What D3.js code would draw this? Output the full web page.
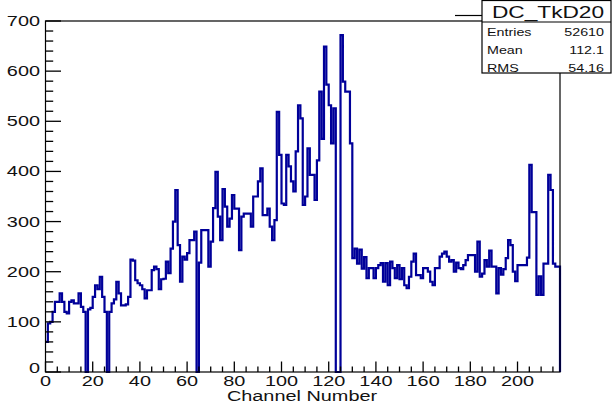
<!DOCTYPE html>
<html><head><meta charset="utf-8">
<script src="https://cdn.jsdelivr.net/npm/d3@7"></script>
<style>body{margin:0;background:#fff}svg{display:block}text{font-family:"Liberation Sans",Arial,sans-serif;fill:#111}</style>
</head><body><svg id="c" width="613" height="404"></svg>
<script>
// channel counts (bin i covers [i, i+1))
const counts = [
 60,97,100,120,140,140,157,140,120,117, 140,143,137,137,157,130,120,0,125,128,
 150,173,165,190,150,120,0,120,137,145, 180,157,133,133,135,150,224,222,183,177,
 173,165,147,163,163,203,210,205,165,185, 186,220,197,246,300,363,253,180,230,224,
 237,263,263,280,0,218,283,283,283,210, 260,327,399,310,263,365,330,290,306,353,
 326,326,243,310,316,316,316,290,350,350, 380,406,313,313,326,290,263,303,519,433,
 336,333,433,410,380,360,440,532,506,333, 350,446,393,393,343,422,559,465,649,573,
 532,456,526,0,0,672,579,559,559,456, 227,246,216,244,206,229,187,207,207,187,
 207,213,217,180,217,173,220,207,187,213, 185,207,173,167,190,220,236,193,193,187,
 207,207,200,180,173,207,207,230,236,240, 230,220,223,200,218,207,205,213,223,233,
 233,233,200,260,190,196,223,210,242,210, 210,157,207,194,205,227,263,253,200,181,
 213,213,213,213,228,413,319,319,154,191, 154,216,216,393,363,216,210,210
];
const xTickLabels = [0,20,40,60,80,100,120,140,160,180,200];
const yTickLabels = [0,100,200,300,400,500,600,700];
const statNames = ["Entries","Mean","RMS"];
const statValues = ["52610","112.1","54.16"];
const histName = "DC_TkD20";
const xTitle = "Channel Number";

const svg = d3.select("#c");
const L=45.5, R=560, T=21, B=372;
const x = d3.scaleLinear().domain([0,218]).range([L,R]);
const y = d3.scaleLinear().domain([0,700]).range([B,T]);
const SX = 1.42;
const col = "#000099";

// histogram outline
const pts = [[0,counts[0]]];
counts.forEach((v,i)=>{pts.push([i,v]);pts.push([i+1,v]);});
pts.push([counts.length,0]);
const line = d3.line().x(d=>x(d[0])).y(d=>y(d[1]));
svg.append("path").attr("d",line(pts)).attr("fill","none")
  .attr("stroke",col).attr("stroke-width",2.2).attr("stroke-linejoin","miter");

// frame
svg.append("rect").attr("x",L).attr("y",T).attr("width",R-L).attr("height",B-T)
  .attr("fill","none").attr("stroke","#000").attr("stroke-width",1.2);

// x ticks (inside)
const xt = d3.range(0,218,5);
svg.selectAll(".xt").data(xt).enter().append("line")
  .attr("x1",d=>x(d)).attr("x2",d=>x(d)).attr("y1",B)
  .attr("y2",d=>B-(d%20===0?10.5:5.5)).attr("stroke","#000").attr("stroke-width",1.3);
svg.selectAll(".xl").data(xTickLabels).enter().append("text")
  .attr("transform",d=>`translate(${x(d)},386) scale(${SX},1)`)
  .attr("text-anchor","middle").attr("font-size",14).text(d=>d);

// y ticks (inside)
const yt = d3.range(0,701,20);
svg.selectAll(".yt").data(yt).enter().append("line")
  .attr("y1",d=>y(d)).attr("y2",d=>y(d)).attr("x1",L)
  .attr("x2",d=>L+(d%100===0?15.5:7.7)).attr("stroke","#000").attr("stroke-width",1.3);
svg.selectAll(".yl").data(yTickLabels).enter().append("text")
  .attr("transform",d=>`translate(40,${y(d)+(d===0?1:5)}) scale(${SX},1)`)
  .attr("text-anchor","end").attr("font-size",14).text(d=>d);

// axis title
svg.append("text").attr("transform",`translate(302,401) scale(${SX},1)`)
  .attr("text-anchor","middle").attr("font-size",14).text(xTitle);

// title box fragment
svg.append("line").attr("x1",455).attr("x2",482).attr("y1",15.5).attr("y2",15.5)
  .attr("stroke","#000").attr("stroke-width",1.2);

// stats box
const sb = svg.append("g");
sb.append("rect").attr("x",482).attr("y",0.5).attr("width",129).attr("height",72.5)
  .attr("fill","#fff").attr("stroke","#000").attr("stroke-width",1.2);
sb.append("line").attr("x1",482).attr("x2",611).attr("y1",22).attr("y2",22)
  .attr("stroke","#000").attr("stroke-width",1.2);
sb.append("text").attr("transform",`translate(548,18) scale(${SX},1)`)
  .attr("text-anchor","middle").attr("font-size",16).text(histName);
statNames.forEach((n,i)=>{
  const yy = 36 + i*18;
  sb.append("text").attr("transform",`translate(487,${yy}) scale(1.3,1)`)
    .attr("font-size",11).text(n);
  sb.append("text").attr("transform",`translate(604,${yy}) scale(1.3,1)`)
    .attr("text-anchor","end").attr("font-size",11).text(statValues[i]);
});
</script></body></html>
